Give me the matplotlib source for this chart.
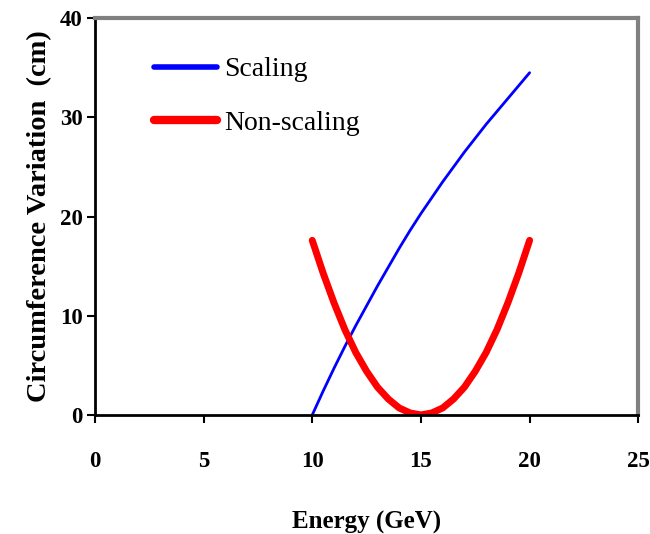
import matplotlib
matplotlib.use("Agg")
import matplotlib.pyplot as plt
from matplotlib.lines import Line2D

# Energy (GeV) sample points
energy = [10, 10.5, 11, 11.5, 12, 12.5, 13, 13.5, 14, 14.5, 15,
          15.5, 16, 16.5, 17, 17.5, 18, 18.5, 19, 19.5, 20]
# Circumference variation (cm)
scaling = [0, 2.4, 4.7, 6.9, 9.0, 11.0, 13.0, 14.9, 16.8, 18.6, 20.3,
           21.9, 23.5, 25.0, 26.5, 27.9, 29.3, 30.6, 31.9, 33.2, 34.5]
non_scaling = [17.6, 14.3, 11.3, 8.6, 6.3, 4.4, 2.8, 1.6, 0.7, 0.2, 0,
               0.2, 0.7, 1.6, 2.8, 4.4, 6.3, 8.6, 11.3, 14.3, 17.6]

x_ticks = [0, 5, 10, 15, 20, 25]
y_ticks = [0, 10, 20, 30, 40]

plt.rcParams["font.family"] = "Liberation Serif"

fig = plt.figure(figsize=(6.5, 5.34), dpi=100, facecolor="white")
ax = fig.add_axes([0.146, 0.223, 0.836, 0.743])

ax.plot(energy, scaling, color="#0000ff", linewidth=2.0, solid_capstyle="round")
ax.plot(energy, non_scaling, color="#ff0000", linewidth=5.0, solid_capstyle="round")

ax.set_xlim(0, 25)
ax.set_ylim(0, 40)
ax.set_xticks(x_ticks)
ax.set_yticks(y_ticks)
ax.tick_params(axis="both", direction="out", length=6, width=1.5, labelsize=16.5)
ax.tick_params(axis="x", pad=20)
ax.tick_params(axis="y", pad=3)
for lbl in ax.get_xticklabels() + ax.get_yticklabels():
    lbl.set_fontweight("bold")

ax.spines["left"].set_linewidth(2.0)
ax.spines["bottom"].set_linewidth(2.0)
ax.spines["top"].set_color("#808080")
ax.spines["right"].set_color("#808080")
ax.spines["top"].set_linewidth(3.0)
ax.spines["right"].set_linewidth(3.0)

ax.set_xlabel("Energy (GeV)", fontsize=18, fontweight="bold", labelpad=28)
ax.set_ylabel("Circumference Variation  (cm)", fontsize=20.5, fontweight="bold", labelpad=5)

handles = [
    Line2D([], [], color="#0000ff", linewidth=4, solid_capstyle="round"),
    Line2D([], [], color="#ff0000", linewidth=6, solid_capstyle="round"),
]
ax.legend(handles, ["Scaling", "Non-scaling"], loc="upper left",
          bbox_to_anchor=(0.062, 0.965), frameon=False, fontsize=20,
          handlelength=2.3, handletextpad=0.25, labelspacing=1.0)

fig.savefig("out.png", dpi=100, facecolor="white")
